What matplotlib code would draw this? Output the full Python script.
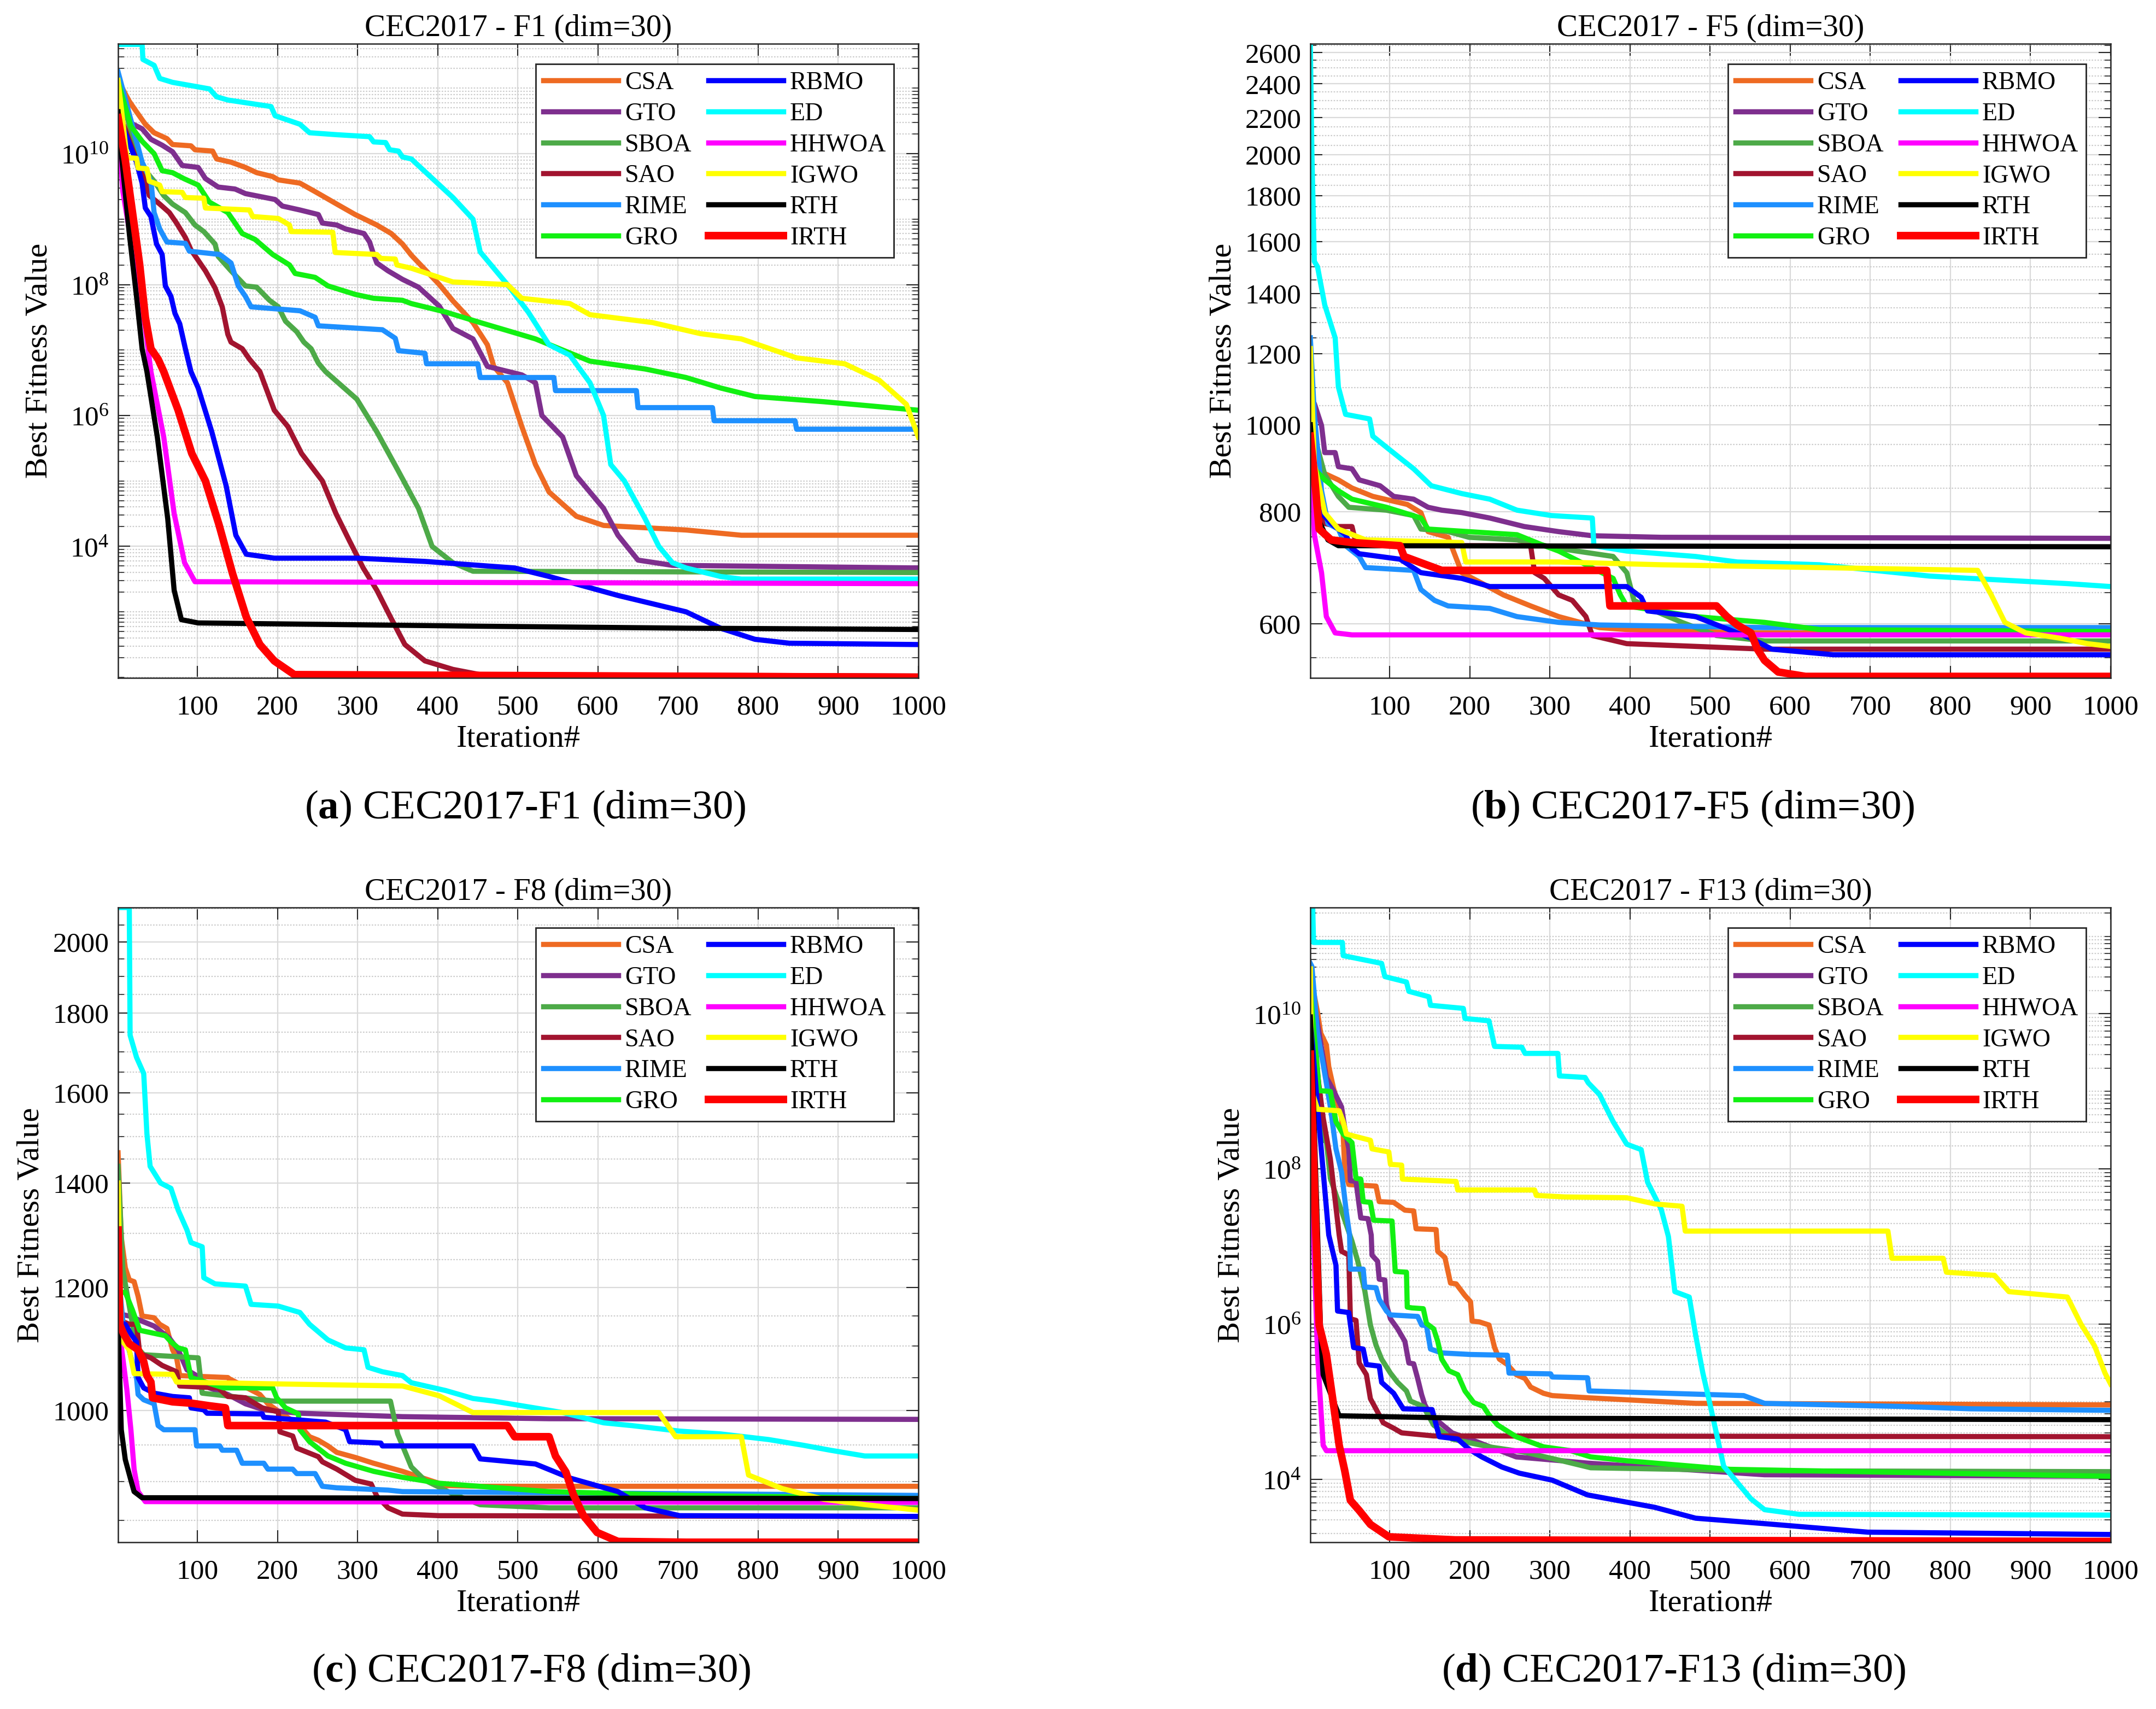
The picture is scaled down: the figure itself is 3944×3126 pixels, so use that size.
import numpy as np
import matplotlib
matplotlib.use('Agg')
import matplotlib.pyplot as plt
from matplotlib.ticker import FixedLocator, NullFormatter, FuncFormatter, LogLocator

plt.rcParams['font.family'] = ['Liberation Serif', 'DejaVu Serif']
plt.rcParams['mathtext.fontset'] = 'custom'
plt.rcParams['mathtext.rm'] = 'Liberation Serif'
plt.rcParams['mathtext.it'] = 'Liberation Serif:italic'
plt.rcParams['mathtext.bf'] = 'Liberation Serif:bold'

algos = ['CSA', 'GTO', 'SBOA', 'SAO', 'RIME', 'GRO', 'RBMO', 'ED', 'HHWOA', 'IGWO', 'RTH', 'IRTH']
colors = ['#EE6A22', '#7E2F8E', '#4DAA48', '#A2142F', '#1E90FF', '#12F012',
          '#0000FF', '#00FFFF', '#FF00FF', '#FFFF00', '#000000', '#FF0000']

# ---- F1 (log10 of best fitness) ----
f1_csa_it = [1, 5, 15, 24, 35, 46, 62, 69, 92, 97, 119, 124, 142, 160, 174, 194, 201, 228, 247, 274, 297, 324, 342, 356, 367, 402, 419, 444, 462, 470, 487, 505, 522, 539, 573, 607, 710, 779, 1000]
f1_csa_exp = [11.1, 11.03, 10.80, 10.64, 10.45, 10.32, 10.23, 10.14, 10.12, 10.06, 10.04, 9.92, 9.87, 9.79, 9.71, 9.65, 9.60, 9.55, 9.42, 9.23, 9.07, 8.91, 8.78, 8.62, 8.45, 8.0, 7.75, 7.42, 7.08, 6.75, 6.5, 5.83, 5.25, 4.83, 4.46, 4.32, 4.25, 4.17, 4.17]
f1_gto_it = [1, 15, 31, 42, 56, 69, 81, 101, 110, 126, 147, 160, 197, 206, 228, 251, 256, 274, 285, 308, 315, 320, 324, 338, 356, 376, 402, 419, 444, 462, 505, 522, 530, 556, 573, 590, 607, 625, 650, 693, 1000]
f1_gto_exp = [11.1, 10.48, 10.38, 10.22, 10.13, 10.03, 9.82, 9.79, 9.62, 9.49, 9.46, 9.39, 9.30, 9.20, 9.14, 9.07, 8.94, 8.91, 8.85, 8.78, 8.65, 8.46, 8.33, 8.21, 8.08, 7.96, 7.67, 7.33, 7.17, 6.75, 6.62, 6.5, 6.0, 5.67, 5.08, 4.83, 4.58, 4.17, 3.79, 3.71, 3.67]
f1_sboa_it = [1, 24, 35, 46, 58, 69, 85, 97, 108, 122, 126, 142, 160, 174, 190, 201, 210, 224, 233, 242, 251, 260, 299, 324, 350, 376, 393, 419, 444, 1000]
f1_sboa_exp = [11.1, 10.0, 9.74, 9.58, 9.36, 9.23, 9.10, 8.91, 8.81, 8.62, 8.43, 8.21, 7.98, 7.96, 7.76, 7.66, 7.44, 7.28, 7.12, 7.02, 6.80, 6.67, 6.25, 5.75, 5.17, 4.58, 4.0, 3.75, 3.62, 3.6]
f1_sao_it = [1, 24, 31, 40, 53, 65, 74, 85, 92, 101, 110, 122, 131, 138, 142, 156, 165, 178, 196, 213, 230, 256, 273, 290, 307, 324, 341, 359, 384, 419, 453, 1000]
f1_sao_exp = [10.67, 9.9, 9.74, 9.36, 9.23, 9.10, 8.94, 8.72, 8.53, 8.37, 8.21, 7.95, 7.66, 7.24, 7.12, 7.02, 6.86, 6.67, 6.08, 5.83, 5.42, 5.0, 4.5, 4.08, 3.67, 3.33, 2.92, 2.5, 2.25, 2.12, 2.04, 2.02]
f1_rime_it = [1, 31, 42, 46, 53, 62, 85, 90, 128, 142, 151, 160, 167, 228, 247, 251, 331, 347, 351, 384, 386, 450, 453, 545, 547, 648, 650, 743, 745, 846, 848, 1000]
f1_rime_exp = [11.25, 9.87, 9.58, 9.10, 8.85, 8.65, 8.63, 8.51, 8.46, 8.33, 7.98, 7.82, 7.66, 7.60, 7.50, 7.37, 7.31, 7.18, 6.99, 6.95, 6.79, 6.79, 6.58, 6.58, 6.38, 6.38, 6.12, 6.12, 5.92, 5.92, 5.79, 5.79]
f1_gro_it = [1, 17, 31, 46, 56, 69, 83, 101, 115, 138, 156, 172, 194, 215, 222, 247, 263, 297, 320, 356, 367, 410, 453, 522, 590, 659, 710, 753, 796, 882, 1000]
f1_gro_exp = [11.1, 10.42, 10.19, 10.0, 9.74, 9.71, 9.62, 9.52, 9.26, 9.10, 8.78, 8.69, 8.46, 8.30, 8.17, 8.11, 7.98, 7.85, 7.79, 7.76, 7.71, 7.58, 7.42, 7.17, 6.83, 6.71, 6.58, 6.42, 6.29, 6.21, 6.08]
f1_rbmo_it = [1, 15, 24, 31, 35, 42, 49, 56, 60, 67, 72, 78, 85, 92, 101, 118, 136, 148, 161, 196, 299, 384, 496, 539, 625, 710, 753, 796, 839, 1000]
f1_rbmo_exp = [10.6, 10.16, 9.87, 9.55, 9.17, 9.04, 8.62, 8.46, 7.98, 7.82, 7.56, 7.40, 7.02, 6.67, 6.42, 5.75, 4.92, 4.17, 3.88, 3.82, 3.82, 3.77, 3.67, 3.54, 3.25, 3.0, 2.75, 2.58, 2.52, 2.5]
f1_ed_it = [1, 31, 32, 46, 53, 69, 92, 115, 124, 138, 192, 197, 228, 240, 274, 315, 320, 335, 340, 351, 356, 367, 419, 444, 453, 487, 513, 539, 565, 590, 607, 616, 633, 659, 676, 693, 710, 753, 779, 1000]
f1_ed_exp = [11.67, 11.67, 11.44, 11.35, 11.15, 11.09, 11.04, 10.99, 10.87, 10.82, 10.72, 10.58, 10.45, 10.32, 10.29, 10.26, 10.18, 10.17, 10.06, 10.04, 9.95, 9.92, 9.33, 9.0, 8.5, 8.0, 7.58, 7.08, 6.92, 6.5, 6.0, 5.25, 5.0, 4.42, 4.0, 3.75, 3.67, 3.54, 3.5, 3.5]
f1_hhwoa_it = [1, 7, 24, 35, 42, 58, 71, 84, 97, 1000]
f1_hhwoa_exp = [10.42, 9.42, 8.17, 7.34, 6.67, 5.67, 4.5, 3.75, 3.46, 3.43]
f1_igwo_it = [1, 5, 12, 24, 26, 37, 40, 53, 56, 81, 85, 108, 110, 165, 169, 201, 215, 217, 269, 272, 324, 329, 347, 349, 367, 419, 487, 505, 565, 590, 668, 728, 779, 848, 908, 951, 985, 1000]
f1_igwo_exp = [11.12, 10.7, 9.94, 9.93, 9.78, 9.77, 9.58, 9.52, 9.42, 9.41, 9.33, 9.32, 9.17, 9.14, 9.04, 9.01, 8.91, 8.81, 8.80, 8.49, 8.46, 8.40, 8.39, 8.30, 8.25, 8.04, 8.0, 7.79, 7.71, 7.54, 7.42, 7.25, 7.17, 6.88, 6.79, 6.54, 6.17, 5.67]
f1_rth_it = [1, 5, 15, 24, 31, 37, 50, 63, 71, 80, 101, 453, 710, 1000]
f1_rth_exp = [10.64, 10.0, 8.78, 7.82, 7.02, 6.67, 5.67, 4.42, 3.33, 2.88, 2.83, 2.78, 2.75, 2.73]
f1_irth_it = [1, 10, 19, 28, 35, 42, 51, 58, 76, 93, 110, 127, 144, 161, 178, 196, 221, 1000]
f1_irth_exp = [10.55, 9.90, 9.10, 8.30, 7.50, 7.02, 6.86, 6.67, 6.08, 5.42, 5.0, 4.33, 3.58, 2.92, 2.5, 2.25, 2.04, 2.0]

# ---- F5 (best fitness) ----
f5_csa_it = [1, 6, 36, 53, 79, 122, 139, 148, 173, 190, 216, 242, 276, 311, 362, 396, 482, 568, 1000]
f5_csa_val = [971, 893, 868, 850, 832, 815, 798, 760, 749, 684, 665, 646, 628, 611, 594, 591, 588, 586, 586]
f5_gto_it = [1, 6, 15, 19, 32, 36, 53, 62, 88, 105, 130, 148, 165, 190, 225, 268, 311, 353, 439, 1000]
f5_gto_val = [1071, 1056, 998, 931, 931, 898, 893, 868, 855, 832, 826, 809, 803, 798, 787, 770, 760, 752, 749, 747]
f5_sboa_it = [1, 6, 19, 36, 49, 96, 130, 139, 173, 199, 259, 311, 379, 396, 405, 431, 465, 508, 568, 1000]
f5_sboa_val = [1216, 971, 880, 832, 809, 803, 792, 765, 760, 749, 744, 728, 713, 684, 637, 620, 602, 582, 574, 574]
f5_sao_it = [1, 6, 19, 36, 53, 57, 88, 156, 276, 281, 293, 311, 328, 345, 353, 396, 482, 568, 1000]
f5_sao_val = [971, 809, 776, 770, 770, 744, 739, 733, 733, 684, 674, 646, 637, 611, 582, 570, 566, 562, 562]
f5_rime_it = [1, 6, 15, 23, 36, 45, 62, 70, 130, 139, 156, 173, 225, 259, 311, 362, 568, 1000]
f5_rime_val = [1250, 1027, 844, 776, 765, 733, 713, 693, 688, 655, 637, 628, 624, 611, 602, 598, 594, 594]
f5_gro_it = [1, 6, 19, 36, 53, 96, 139, 148, 259, 293, 311, 379, 388, 396, 482, 568, 637, 1000]
f5_gro_val = [971, 893, 868, 844, 826, 809, 787, 765, 754, 733, 723, 674, 646, 628, 611, 602, 591, 588]
f5_rbmo_it = [1, 6, 15, 27, 45, 53, 62, 113, 139, 190, 225, 396, 414, 422, 482, 517, 551, 577, 654, 1000]
f5_rbmo_val = [1117, 868, 798, 776, 754, 728, 718, 708, 684, 674, 660, 660, 642, 620, 611, 594, 578, 562, 554, 554]
f5_ed_it = [1, 3, 6, 10, 19, 32, 36, 45, 75, 79, 96, 113, 130, 152, 190, 225, 259, 302, 353, 355, 396, 482, 534, 637, 705, 774, 825, 946, 1000]
f5_ed_val = [2660, 2000, 1521, 1500, 1360, 1250, 1102, 1027, 1015, 971, 944, 918, 893, 855, 838, 826, 803, 792, 787, 733, 723, 713, 703, 698, 688, 678, 674, 665, 660]
f5_hhwoa_it = [1, 6, 15, 21, 32, 53, 1000]
f5_hhwoa_val = [1056, 754, 684, 611, 586, 583, 583]
f5_igwo_it = [1, 6, 19, 36, 70, 190, 195, 311, 439, 834, 851, 868, 894, 937, 971, 1000]
f5_igwo_val = [1216, 905, 798, 765, 744, 739, 703, 703, 698, 688, 646, 602, 586, 578, 570, 566]
f5_rth_it = [1, 10, 23, 36, 1000]
f5_rth_val = [1000, 787, 744, 733, 731]
f5_irth_it = [1, 6, 12, 27, 53, 113, 118, 165, 371, 375, 508, 521, 534, 551, 559, 568, 585, 619, 1000]
f5_irth_val = [971, 880, 765, 744, 739, 733, 713, 688, 688, 628, 628, 611, 598, 586, 562, 546, 530, 524, 524]

# ---- F8 (best fitness) ----
f8_csa_it = [1, 5, 10, 15, 21, 26, 31, 46, 53, 62, 69, 74, 78, 138, 140, 178, 188, 206, 228, 240, 251, 263, 274, 297, 320, 356, 410, 453, 1000]
f8_csa_val = [1464, 1292, 1235, 1213, 1210, 1184, 1150, 1147, 1136, 1129, 1094, 1081, 1053, 1050, 1048, 1024, 1010, 995, 978, 962, 957, 949, 940, 933, 925, 914, 895, 894, 894]
f8_gto_it = [1, 15, 46, 65, 76, 87, 99, 115, 138, 160, 183, 228, 356, 539, 1000]
f8_gto_val = [1154, 1150, 1133, 1113, 1094, 1062, 1053, 1034, 1024, 1010, 1001, 996, 991, 988, 987]
f8_sboa_it = [1, 7, 24, 33, 101, 106, 136, 196, 341, 350, 367, 384, 419, 453, 539, 1000]
f8_sboa_val = [1435, 1231, 1099, 1086, 1081, 1026, 1022, 1014, 1014, 966, 920, 902, 884, 870, 866, 866]
f8_sao_it = [1, 15, 24, 28, 42, 56, 74, 78, 126, 138, 160, 181, 201, 203, 219, 224, 251, 256, 274, 297, 317, 324, 338, 356, 402, 1000]
f8_sao_val = [1144, 1136, 1136, 1088, 1081, 1069, 1059, 1037, 1034, 1021, 1019, 1004, 998, 969, 963, 946, 934, 927, 917, 902, 897, 881, 866, 858, 856, 855]
f8_rime_it = [1, 8, 24, 26, 33, 46, 51, 58, 97, 99, 128, 131, 149, 156, 183, 188, 219, 224, 247, 256, 274, 338, 356, 1000]
f8_rime_val = [1231, 1126, 1050, 1024, 1016, 1010, 978, 972, 972, 949, 949, 943, 943, 925, 925, 917, 917, 911, 911, 894, 892, 889, 887, 882]
f8_gro_it = [1, 10, 19, 28, 60, 67, 76, 85, 92, 133, 194, 199, 210, 226, 228, 240, 263, 285, 320, 356, 402, 539, 710, 1000]
f8_gro_val = [1191, 1191, 1160, 1126, 1117, 1107, 1097, 1094, 1050, 1034, 1034, 1019, 1004, 995, 972, 955, 935, 925, 914, 906, 898, 887, 882, 878]
f8_rbmo_it = [1, 10, 17, 24, 26, 33, 46, 69, 90, 92, 108, 112, 181, 183, 228, 260, 285, 290, 329, 331, 444, 453, 522, 565, 625, 659, 702, 1000]
f8_rbmo_val = [1140, 1136, 1120, 1107, 1050, 1034, 1026, 1021, 1019, 1004, 1001, 996, 995, 990, 986, 983, 972, 955, 953, 949, 949, 931, 924, 905, 887, 866, 856, 855]
f8_ed_it = [1, 15, 16, 24, 33, 37, 41, 54, 67, 76, 87, 92, 106, 108, 122, 160, 167, 201, 228, 240, 263, 285, 308, 313, 331, 356, 367, 410, 444, 470, 556, 607, 642, 702, 753, 813, 856, 890, 933, 1000]
f8_ed_val = [2104, 2104, 1742, 1686, 1646, 1506, 1435, 1400, 1389, 1345, 1306, 1282, 1274, 1217, 1206, 1202, 1170, 1167, 1156, 1136, 1110, 1097, 1094, 1066, 1059, 1053, 1042, 1030, 1018, 1014, 997, 982, 978, 970, 966, 958, 950, 943, 935, 935]
f8_hhwoa_it = [1, 5, 12, 17, 21, 26, 35, 1000]
f8_hhwoa_val = [1150, 1100, 1031, 972, 917, 887, 874, 873]
f8_igwo_it = [1, 5, 15, 21, 69, 74, 206, 356, 402, 444, 676, 697, 779, 788, 830, 882, 934, 1000]
f8_igwo_val = [1400, 1110, 1094, 1056, 1055, 1043, 1040, 1037, 1022, 997, 997, 962, 962, 909, 891, 877, 870, 863]
f8_rth_it = [1, 5, 10, 17, 21, 31, 1000]
f8_rth_val = [1140, 972, 930, 902, 887, 879, 878]
f8_irth_it = [1, 3, 8, 15, 26, 33, 37, 42, 44, 69, 92, 115, 135, 138, 487, 496, 539, 547, 560, 569, 582, 599, 625, 710, 1000]
f8_irth_val = [1306, 1136, 1120, 1104, 1094, 1075, 1053, 1043, 1019, 1013, 1011, 1007, 1004, 978, 978, 962, 962, 935, 913, 884, 856, 835, 824, 823, 823]

# ---- F13 (log10 of best fitness) ----
f13_csa_it = [1, 5, 10, 14, 21, 24, 30, 40, 42, 44, 49, 83, 87, 105, 119, 130, 133, 158, 160, 169, 176, 183, 194, 201, 203, 212, 224, 231, 237, 247, 258, 269, 276, 292, 303, 351, 482, 1000]
f13_csa_exp = [10.44, 10.29, 10.02, 9.75, 9.60, 9.32, 9.04, 8.66, 8.45, 7.99, 7.80, 7.78, 7.58, 7.57, 7.47, 7.46, 7.23, 7.22, 6.94, 6.86, 6.53, 6.52, 6.37, 6.29, 6.04, 6.03, 5.99, 5.70, 5.55, 5.48, 5.35, 5.30, 5.19, 5.11, 5.08, 5.05, 4.98, 4.96]
f13_gto_it = [1, 21, 30, 40, 44, 49, 51, 58, 64, 73, 77, 78, 85, 87, 94, 96, 101, 110, 119, 124, 130, 135, 140, 144, 151, 178, 205, 258, 315, 347, 568, 1000]
f13_gto_exp = [10.44, 9.18, 9.01, 8.80, 8.53, 8.26, 7.85, 7.84, 7.37, 7.36, 7.15, 6.89, 6.81, 6.58, 6.57, 6.25, 6.07, 5.94, 5.78, 5.50, 5.49, 5.30, 5.09, 4.96, 4.83, 4.60, 4.50, 4.29, 4.24, 4.21, 4.06, 4.04]
f13_sboa_it = [1, 17, 21, 26, 33, 53, 60, 69, 76, 83, 90, 101, 110, 121, 126, 142, 155, 178, 224, 269, 315, 351, 568, 1000]
f13_sboa_exp = [10.44, 8.37, 8.36, 7.88, 7.67, 7.07, 6.82, 6.43, 5.99, 5.73, 5.55, 5.37, 5.25, 5.14, 5.01, 4.94, 4.70, 4.52, 4.42, 4.35, 4.24, 4.15, 4.11, 4.10]
f13_sao_it = [1, 17, 26, 37, 40, 49, 51, 58, 62, 71, 76, 87, 92, 105, 115, 155, 1000]
f13_sao_exp = [9.94, 8.66, 8.13, 7.15, 6.94, 6.89, 6.07, 6.05, 5.50, 5.35, 5.04, 4.83, 4.73, 4.66, 4.60, 4.56, 4.55]
f13_rime_it = [1, 3, 10, 17, 26, 33, 40, 46, 50, 51, 67, 69, 83, 87, 96, 101, 135, 140, 146, 151, 165, 201, 247, 249, 301, 303, 347, 349, 542, 568, 740, 825, 1000]
f13_rime_exp = [10.65, 10.61, 9.75, 9.35, 8.80, 8.26, 7.96, 7.44, 7.15, 6.71, 6.71, 6.48, 6.47, 6.32, 6.17, 6.12, 6.10, 5.99, 5.98, 5.68, 5.63, 5.61, 5.60, 5.37, 5.36, 5.32, 5.31, 5.14, 5.08, 4.98, 4.94, 4.91, 4.89]
f13_gro_it = [1, 12, 26, 33, 42, 53, 58, 64, 67, 76, 80, 103, 107, 121, 122, 128, 142, 146, 155, 160, 165, 174, 185, 194, 205, 217, 224, 235, 258, 292, 326, 351, 396, 525, 1000]
f13_gro_exp = [10.30, 9.01, 9.00, 8.61, 8.45, 8.34, 7.88, 7.87, 7.58, 7.57, 7.34, 7.33, 6.68, 6.67, 6.22, 6.21, 6.20, 6.01, 5.94, 5.78, 5.55, 5.40, 5.35, 5.14, 4.99, 4.94, 4.83, 4.70, 4.55, 4.42, 4.37, 4.29, 4.24, 4.13, 4.04]
f13_rbmo_it = [1, 10, 24, 33, 35, 49, 55, 67, 71, 87, 90, 105, 117, 153, 162, 185, 199, 215, 240, 262, 303, 347, 431, 482, 568, 697, 1000]
f13_rbmo_exp = [9.94, 8.80, 7.15, 6.76, 6.17, 6.15, 5.70, 5.68, 5.48, 5.46, 5.25, 5.11, 4.91, 4.90, 4.55, 4.52, 4.39, 4.29, 4.16, 4.08, 3.99, 3.80, 3.64, 3.50, 3.43, 3.32, 3.29]
f13_ed_it = [1, 4, 5, 41, 42, 90, 94, 121, 124, 149, 151, 192, 194, 224, 231, 265, 269, 310, 312, 344, 348, 362, 379, 396, 414, 422, 439, 448, 456, 474, 482, 491, 499, 508, 517, 534, 551, 568, 611, 1000]
f13_ed_exp = [11.37, 11.37, 10.92, 10.92, 10.75, 10.65, 10.48, 10.41, 10.29, 10.22, 10.11, 10.07, 9.94, 9.91, 9.58, 9.57, 9.49, 9.49, 9.20, 9.18, 9.11, 8.96, 8.61, 8.32, 8.25, 7.83, 7.48, 7.13, 6.42, 6.35, 5.86, 5.37, 5.01, 4.59, 4.17, 3.96, 3.75, 3.61, 3.55, 3.54]
f13_hhwoa_it = [1, 5, 10, 17, 21, 1000]
f13_hhwoa_exp = [7.6, 7.15, 5.61, 4.44, 4.37, 4.37]
f13_igwo_it = [1, 3, 10, 37, 42, 46, 76, 78, 99, 101, 115, 116, 183, 185, 281, 283, 319, 396, 431, 465, 469, 722, 727, 791, 795, 855, 873, 946, 963, 980, 993, 1000]
f13_igwo_exp = [10.58, 9.0, 8.77, 8.75, 8.61, 8.45, 8.37, 8.26, 8.22, 8.06, 8.05, 7.87, 7.84, 7.73, 7.73, 7.66, 7.64, 7.63, 7.55, 7.52, 7.20, 7.20, 6.85, 6.85, 6.67, 6.63, 6.42, 6.35, 6.0, 5.72, 5.37, 5.23]
f13_rth_it = [1, 3, 14, 17, 37, 185, 1000]
f13_rth_exp = [9.96, 9.48, 5.86, 5.35, 4.82, 4.79, 4.77]
f13_irth_it = [1, 8, 12, 21, 30, 37, 44, 51, 62, 76, 99, 182, 1000]
f13_irth_exp = [9.48, 7.15, 5.99, 5.61, 4.96, 4.44, 4.11, 3.73, 3.60, 3.42, 3.26, 3.22, 3.20]

f1_curves = [(f1_csa_it, f1_csa_exp), (f1_gto_it, f1_gto_exp), (f1_sboa_it, f1_sboa_exp), (f1_sao_it, f1_sao_exp),
             (f1_rime_it, f1_rime_exp), (f1_gro_it, f1_gro_exp), (f1_rbmo_it, f1_rbmo_exp), (f1_ed_it, f1_ed_exp),
             (f1_hhwoa_it, f1_hhwoa_exp), (f1_igwo_it, f1_igwo_exp), (f1_rth_it, f1_rth_exp), (f1_irth_it, f1_irth_exp)]
f5_curves = [(f5_csa_it, f5_csa_val), (f5_gto_it, f5_gto_val), (f5_sboa_it, f5_sboa_val), (f5_sao_it, f5_sao_val),
             (f5_rime_it, f5_rime_val), (f5_gro_it, f5_gro_val), (f5_rbmo_it, f5_rbmo_val), (f5_ed_it, f5_ed_val),
             (f5_hhwoa_it, f5_hhwoa_val), (f5_igwo_it, f5_igwo_val), (f5_rth_it, f5_rth_val), (f5_irth_it, f5_irth_val)]
f8_curves = [(f8_csa_it, f8_csa_val), (f8_gto_it, f8_gto_val), (f8_sboa_it, f8_sboa_val), (f8_sao_it, f8_sao_val),
             (f8_rime_it, f8_rime_val), (f8_gro_it, f8_gro_val), (f8_rbmo_it, f8_rbmo_val), (f8_ed_it, f8_ed_val),
             (f8_hhwoa_it, f8_hhwoa_val), (f8_igwo_it, f8_igwo_val), (f8_rth_it, f8_rth_val), (f8_irth_it, f8_irth_val)]
f13_curves = [(f13_csa_it, f13_csa_exp), (f13_gto_it, f13_gto_exp), (f13_sboa_it, f13_sboa_exp), (f13_sao_it, f13_sao_exp),
              (f13_rime_it, f13_rime_exp), (f13_gro_it, f13_gro_exp), (f13_rbmo_it, f13_rbmo_exp), (f13_ed_it, f13_ed_exp),
              (f13_hhwoa_it, f13_hhwoa_exp), (f13_igwo_it, f13_igwo_exp), (f13_rth_it, f13_rth_exp), (f13_irth_it, f13_irth_exp)]

fig = plt.figure(figsize=(39.44, 31.26), dpi=100)
W, H = 3944, 3126
rects = [(216, 80, 1464, 1160), (2397, 80, 1464, 1160),
         (216, 1660, 1464, 1161), (2397, 1660, 1464, 1161)]
axes = [fig.add_axes([x / W, 1 - (y + h) / H, w / W, h / H]) for x, y, w, h in rects]


def style_axis(ax, title):
    ax.set_xlim(1, 1000)
    ax.set_xticks(range(100, 1001, 100))
    ax.set_title(title, fontsize=41, pad=10)
    ax.set_xlabel('Iteration#', fontsize=42, labelpad=6)
    ax.set_ylabel('Best Fitness Value', fontsize=42, labelpad=10)
    ax.set_axisbelow(True)
    ax.grid(True, which='major', color='#DADADA', lw=1.6, ls='-')
    ax.grid(True, which='minor', axis='y', color='#CDCDCD', lw=1.6, ls=(0, (1.2, 1.2)))
    ax.tick_params(which='both', direction='in', top=True, right=True, colors='#262626', labelcolor='black')
    ax.tick_params(axis='x', which='major', length=16, width=1.5, labelsize=37, pad=22)
    ax.tick_params(axis='y', which='major', length=16, width=1.5, labelsize=37, pad=12)
    ax.tick_params(axis='y', which='minor', length=8, width=1.2)
    for s in ax.spines.values():
        s.set_color('#262626')
        s.set_linewidth(1.8)


def draw(ax, curves, log_values):
    for (it, v), name, c in zip(curves, algos, colors):
        y = 10 ** np.array(v) if log_values else np.array(v)
        ax.plot(it, y, color=c, lw=10 if name == 'IRTH' else 6.8, label=name)
    ax.set_yscale('log')
    leg = ax.legend(loc='upper right', bbox_to_anchor=(0.9693, 0.968), ncol=2, fontsize=33,
                    frameon=True, fancybox=False, edgecolor='#262626', framealpha=1,
                    borderaxespad=0, borderpad=0.3, labelspacing=0.31, handlelength=3.0,
                    handletextpad=0.26, columnspacing=0.65)
    leg.get_frame().set_linewidth(2.0)


pow_fmt = FuncFormatter(lambda v, p: r'$10^{%d}$' % round(np.log10(v)))

# (a) F1
ax = axes[0]
draw(ax, f1_curves, True)
style_axis(ax, 'CEC2017 - F1 (dim=30)')
ax.set_ylim(10 ** 1.99, 10 ** 11.68)
ax.yaxis.set_major_locator(FixedLocator([1e4, 1e6, 1e8, 1e10]))
ax.yaxis.set_major_formatter(pow_fmt)
ax.yaxis.set_minor_locator(LogLocator(base=10, subs=np.arange(1, 10), numticks=60))
ax.yaxis.set_minor_formatter(NullFormatter())

# (b) F5
ax = axes[1]
draw(ax, f5_curves, False)
style_axis(ax, 'CEC2017 - F5 (dim=30)')
ax.set_ylim(522, 2660)
ax.yaxis.set_major_locator(FixedLocator(list(range(600, 2601, 200))))
ax.yaxis.set_major_formatter(FuncFormatter(lambda v, p: '%d' % v))
ax.yaxis.set_minor_locator(FixedLocator(list(range(550, 2651, 50))))
ax.yaxis.set_minor_formatter(NullFormatter())

# (c) F8
ax = axes[2]
draw(ax, f8_curves, False)
style_axis(ax, 'CEC2017 - F8 (dim=30)')
ax.set_ylim(823, 2104)
ax.yaxis.set_major_locator(FixedLocator(list(range(1000, 2001, 200))))
ax.yaxis.set_major_formatter(FuncFormatter(lambda v, p: '%d' % v))
ax.yaxis.set_minor_locator(FixedLocator(list(range(850, 2101, 50))))
ax.yaxis.set_minor_formatter(NullFormatter())

# (d) F13
ax = axes[3]
draw(ax, f13_curves, True)
style_axis(ax, 'CEC2017 - F13 (dim=30)')
ax.set_ylim(10 ** 3.19, 10 ** 11.37)
ax.yaxis.set_major_locator(FixedLocator([1e4, 1e6, 1e8, 1e10]))
ax.yaxis.set_major_formatter(pow_fmt)
ax.yaxis.set_minor_locator(LogLocator(base=10, subs=np.arange(1, 10), numticks=60))
ax.yaxis.set_minor_formatter(NullFormatter())

captions = [(961, 1479, 'a', 'F1'), (3096, 1479, 'b', 'F5'), (972, 3058, 'c', 'F8'), (3062, 3058, 'd', 'F13')]
for cx, cy, letter, fn in captions:
    fig.text(cx / W, 1 - cy / H, r'($\mathbf{%s}$) CEC2017-%s (dim=30)' % (letter, fn),
             fontsize=54, ha='center', va='center')

fig.savefig('out.png', dpi=100, facecolor='white')
